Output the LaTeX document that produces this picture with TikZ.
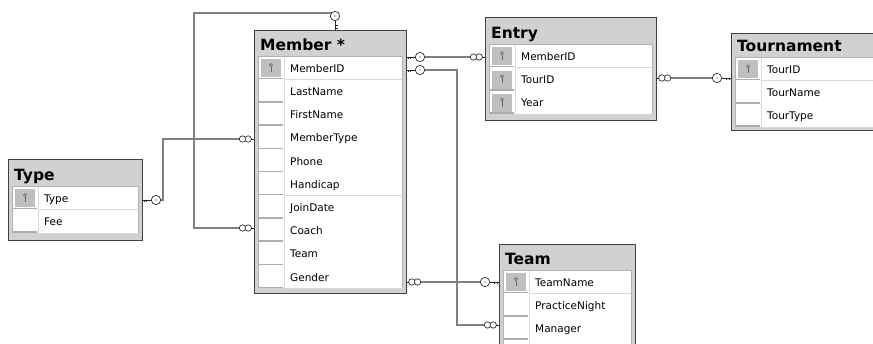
\documentclass[tikz,border=0pt]{standalone}
\usepackage{fontspec}
\setmainfont{DejaVu Sans}
\tikzset{
 tbl/.style={draw=black!75, fill=black!18, line width=0.9pt, inner sep=0, outer sep=0},
 rowsep/.style={draw=black!15, line width=0.5pt},
 keybar/.style={draw=black!32, line width=1.4pt},
 keysq/.style={fill=black!25},
 ttl/.style={font=\fontsize{15.5}{18}\selectfont\bfseries, anchor=base west, inner sep=0},
 fld/.style={font=\fontsize{10.5}{12}\selectfont, anchor=base west, inner sep=0},
 rel/.style={draw=black!88, double=black!50, line width=0.75pt, double distance=1.1pt},
 endsym/.style={draw=black!85, fill=white, line width=0.65pt},
 endln/.style={draw=black!85, line width=0.65pt},
}
\newcommand\keyglyph[2]{%
 \draw[black!60, line width=0.6pt] (#1,#2-2.8) circle (1.6);
 \draw[black!60, line width=0.6pt] (#1,#2-1.2) -- (#1,#2+4) (#1,#2+1.8) -- (#1+1.4,#2+1.8) (#1,#2+3.6) -- (#1+1.4,#2+3.6);
}
\newcommand\ertable[8]{%
 \node[tbl, anchor=north west, minimum width={#3-#2}, minimum height={#6-#4}] (#1) at (#2,#4) {};
 \node[ttl] (#1-t) at (#2+6,#5-5.5) {#7};
 \foreach \k/\t [count=\i from 0] in {#8} {
   \pgfmathsetmacro\yt{#5+23.2*\i}
   \fill[white] (#2+4,\yt) rectangle (#3-4,\yt+23.2);
   \draw[black!30,line width=0.6pt] (#2+4,\yt) -- (#2+4,\yt+23.2) (#3-4,\yt) -- (#3-4,\yt+23.2);
   \draw[rowsep] (#2+30,\yt) -- (#2+30,\yt+23.2) (#2+30,\yt+23.2) -- (#3-4,\yt+23.2);
   \draw[keybar] (#2+5,\yt+22.3) -- (#2+29,\yt+22.3);
   \ifnum\k=1 \fill[keysq] (#2+7,\yt+3) rectangle (#2+27,\yt+21); \keyglyph{#2+17}{\yt+11.6}\fi
   \node[fld] (#1-\i) at (#2+36,\yt+16) {\t};
 }
 \draw[black!30,line width=0.6pt] (#2+4,#5) -- (#3-4,#5);
}
\newcommand\infend[3]{%
 \draw[endsym] (#1+#3*11.5,#2) circle (3.2);
 \draw[endsym] (#1+#3*5.8,#2) circle (3.2);
 \draw[endln] (#1+#3*2.6,#2) -- (#1,#2);
}
\newcommand\keyend[3]{%
 \draw[endln] (#1,#2) -- (#1+#3*10,#2);
 \draw[endln] (#1+#3*2,#2) -- (#1+#3*2,#2+2.5) (#1+#3*4.5,#2) -- (#1+#3*4.5,#2+2.5);
 \draw[endsym] (#1+#3*14,#2) circle (4.7);
 \fill[black] (#1+#3*14,#2) circle (0.7);
}
\newcommand\keyendv[3]{%
 \draw[endln] (#1,#2) -- (#1,#2+#3*10);
 \draw[endln] (#1,#2+#3*2) -- (#1+2.5,#2+#3*2) (#1,#2+#3*4.5) -- (#1+2.5,#2+#3*4.5);
 \draw[endsym] (#1,#2+#3*14) circle (4.7);
 \fill[black] (#1,#2+#3*14) circle (0.7);
}
\begin{document}
\begin{tikzpicture}[x=1pt,y=-1pt]
\useasboundingbox (0,0) rectangle (873,344);
\clip (0,0) rectangle (873,344);
\fill[white] (0,0) rectangle (873,344);

\ertable{member}{254}{406}{30}{56.4}{293}{Member *}{1/MemberID,0/LastName,0/FirstName,0/MemberType,0/Phone,0/Handicap,0/JoinDate,0/Coach,0/Team,0/Gender}
\ertable{entry}{485}{656}{17}{44.4}{120}{Entry}{1/MemberID,1/TourID,1/Year}
\ertable{tour}{731}{890}{33}{57.5}{130}{Tournament}{1/TourID,0/TourName,0/TourType}
\ertable{type}{8}{142}{159}{186.4}{240}{Type}{1/Type,0/Fee}
\ertable{team}{499}{635}{244}{270.4}{370}{Team}{1/TeamName,0/PracticeNight,0/Manager,0/{}}

\coordinate (c1s) at (333,13); \coordinate (c1x) at (194,100); \coordinate (c1e) at (240,228);
\coordinate (c2s) at (157,200); \coordinate (c2x) at (163,170); \coordinate (c2e) at (240,139);
\coordinate (c3s) at (420,57); \coordinate (c3e) at (471,57);
\coordinate (c4s) at (420,70); \coordinate (c4x) at (457,200); \coordinate (c4e) at (485,325);
\coordinate (c5s) at (420,282); \coordinate (c5e) at (485,282);
\coordinate (c6s) at (670,78); \coordinate (c6e) at (717,78);

\draw[rel] (c1s) -| (c1x) |- (c1e);
\draw[rel] (c2s) -| (c2x) |- (c2e);
\draw[rel] (c3s) -- (c3e);
\draw[rel] (c4s) -| (c4x) |- (c4e);
\draw[rel] (c5s) -- (c5e);
\draw[rel] (c6s) -- (c6e);

\keyendv{335}{30}{-1}
\infend{254}{228}{-1}
\keyend{142}{200}{1}
\infend{254}{139}{-1}
\keyend{406}{57}{1}
\infend{485}{57}{-1}
\keyend{406}{70}{1}
\infend{499}{325}{-1}
\infend{406}{282}{1}
\keyend{499}{282}{-1}
\infend{656}{78}{1}
\keyend{731}{78}{-1}
\end{tikzpicture}
\end{document}
